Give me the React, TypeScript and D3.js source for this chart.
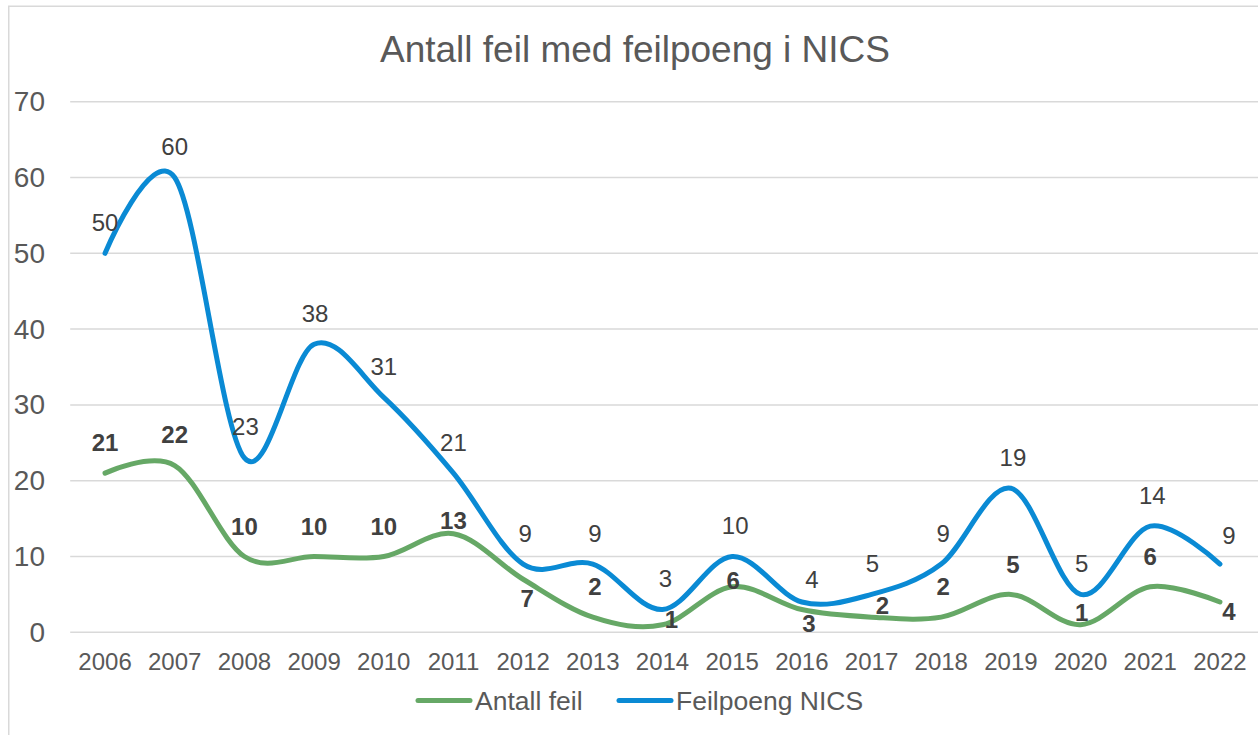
import React, { useEffect, useRef } from "react";
import * as d3 from "d3";

const years = ["2006", "2007", "2008", "2009", "2010", "2011", "2012", "2013", "2014", "2015", "2016", "2017", "2018", "2019", "2020", "2021", "2022"];
const antallFeil = [21, 22, 10, 10, 10, 13, 7, 2, 1, 6, 3, 2, 2, 5, 1, 6, 4];
const feilpoengNics = [50, 60, 23, 38, 31, 21, 9, 9, 3, 10, 4, 5, 9, 19, 5, 14, 9];
const yTicks = [0, 10, 20, 30, 40, 50, 60, 70];

// label nudges (dx, dy) from the point, as placed in the original
const greenNudge = [[0, -31], [0, -31], [0, -30], [0, -30], [0, -30], [0, -13], [4, 19], [2, -31], [9, -5], [1, -6], [7, 14], [11, -12], [2, -31], [2, -30], [1, -12], [0, -30], [9, 10]];
const blueNudge = [[0, -31], [0, -31], [1, -31], [1, -31], [0, -31], [0, -31], [2, -31], [2, -31], [3, -31], [3, -31], [10, -22], [1, -31], [2, -31], [2, -31], [1, -31], [2, -31], [9, -29]];

const GREEN = "#66a866";
const BLUE = "#0a8ad4";
const FONT = "'Liberation Sans', Arial, sans-serif";

export default function App() {
  const ref = useRef<SVGSVGElement>(null);

  useEffect(() => {
    const svg = d3.select(ref.current);
    svg.selectAll("*").remove();

    const width = 1258;
    const left = 70.2, right = 1254.8, top = 101.7, bottom = 632.3;

    // chart frame
    svg.append("rect").attr("x", 8.75).attr("y", 6.25).attr("width", 1300).attr("height", 800)
      .attr("fill", "white").attr("stroke", "#d9d9d9").attr("stroke-width", 1.5);

    svg.append("text").attr("x", 635).attr("y", 49).attr("text-anchor", "middle")
      .attr("dominant-baseline", "central").attr("font-size", 37).attr("fill", "#595959")
      .text("Antall feil med feilpoeng i NICS");

    const x = d3.scalePoint().domain(years).range([left, right]).padding(0.5);
    const y = d3.scaleLinear().domain([0, 70]).range([bottom, top]);

    // grid
    svg.append("g").selectAll("line").data(yTicks).join("line")
      .attr("x1", left).attr("x2", width + 5)
      .attr("y1", (d) => y(d)).attr("y2", (d) => y(d))
      .attr("stroke", "#d9d9d9").attr("stroke-width", 1.5);

    // y labels
    svg.append("g").selectAll("text").data(yTicks).join("text")
      .attr("x", 45).attr("y", (d) => y(d)).attr("text-anchor", "end")
      .attr("dominant-baseline", "central").attr("font-size", 28).attr("fill", "#595959")
      .text((d) => d);

    // x labels
    svg.append("g").selectAll("text").data(years).join("text")
      .attr("x", (d) => x(d)!).attr("y", 661).attr("text-anchor", "middle")
      .attr("dominant-baseline", "central").attr("font-size", 24).attr("fill", "#595959")
      .text((d) => d);

    const line = d3.line<number>()
      .x((_, i) => x(years[i])!)
      .y((d) => y(d))
      .curve(d3.curveCatmullRom.alpha(0));

    svg.append("path").datum(antallFeil).attr("d", line).attr("fill", "none")
      .attr("stroke", GREEN).attr("stroke-width", 5).attr("stroke-linecap", "round");
    svg.append("path").datum(feilpoengNics).attr("d", line).attr("fill", "none")
      .attr("stroke", BLUE).attr("stroke-width", 5).attr("stroke-linecap", "round");

    // data labels
    svg.append("g").selectAll("text").data(feilpoengNics).join("text")
      .attr("x", (_, i) => x(years[i])! + blueNudge[i][0])
      .attr("y", (d, i) => y(d) + blueNudge[i][1])
      .attr("text-anchor", "middle").attr("dominant-baseline", "central")
      .attr("font-size", 24).attr("fill", "#404040")
      .text((d) => d);
    svg.append("g").selectAll("text").data(antallFeil).join("text")
      .attr("x", (_, i) => x(years[i])! + greenNudge[i][0])
      .attr("y", (d, i) => y(d) + greenNudge[i][1])
      .attr("text-anchor", "middle").attr("dominant-baseline", "central")
      .attr("font-size", 24).attr("font-weight", "bold").attr("fill", "#404040")
      .text((d) => d);

    // legend
    const legend = [
      { name: "Antall feil", color: GREEN, x: 418 },
      { name: "Feilpoeng NICS", color: BLUE, x: 619 },
    ];
    const lg = svg.append("g").selectAll("g").data(legend).join("g")
      .attr("transform", (d) => `translate(${d.x},700.5)`);
    lg.append("line").attr("x1", 0).attr("x2", 52).attr("stroke", (d) => d.color)
      .attr("stroke-width", 5).attr("stroke-linecap", "round");
    lg.append("text").attr("x", 57).attr("dominant-baseline", "central")
      .attr("font-size", 26.5).attr("fill", "#595959").text((d) => d.name);
  }, []);

  return (
    <svg ref={ref} width={1258} height={735}
      style={{ position: "absolute", left: 0, top: 0, fontFamily: FONT, background: "white" }} />
  );
}
